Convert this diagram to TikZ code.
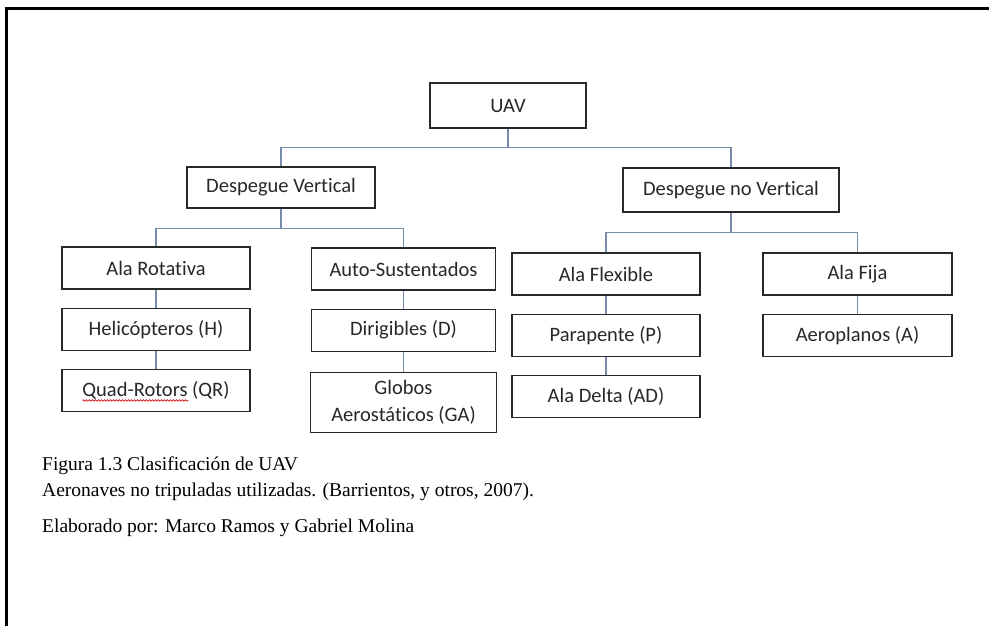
\documentclass[tikz,border=0pt]{standalone}
\usepackage{fontspec}
\setmainfont[Ligatures=NoCommon]{Carlito}
\newfontfamily\capfont{Liberation Serif}
\usepackage{tikz}
\usetikzlibrary{positioning}
\usetikzlibrary{decorations.pathmorphing}
\definecolor{linkblue}{RGB}{118,140,168}
\definecolor{boxline}{RGB}{40,40,40}
\definecolor{boxtext}{RGB}{40,40,40}
\tikzset{auto, x=1pt, y=-1pt, node distance=18pt, font=\fontsize{20.5}{23}\selectfont}
\tikzstyle{block} = [draw=boxline, line width=1.2pt, fill=white, rectangle, minimum height=42pt, minimum width=188pt, text=boxtext, text centered, align=center, inner sep=0pt]
\tikzstyle{link} = [draw=linkblue, line width=1.2pt]
\tikzstyle{squig} = [draw=red!80!black, line width=0.6pt, decorate, decoration={snake, amplitude=0.8pt, segment length=3pt}]
\tikzstyle{capline} = [anchor=base west, inner sep=0pt, font=\capfont\fontsize{19.5}{24}\selectfont]

\begin{document}
\begin{tikzpicture}
    \useasboundingbox (0,0) rectangle (989,626);
    \draw [line width=3pt] (6,626) -- (6,9) -- (989,9);

    % top
    \node [block, minimum width=156pt, minimum height=45pt] (uav) at (508,105.5) {UAV};
    \node [block, minimum height=41pt] (dv) at (281,187.5) {Despegue Vertical};
    \node [block, minimum width=216pt, minimum height=44pt] (dnv) at (731,190) {Despegue no Vertical};

    % despegue vertical
    \node [block] (ar) at (156,268) {Ala Rotativa};
    \node [block, below=of ar] (hel) {Helicópteros (H)};
    \node [block, below=of hel] (qr) {Quad-Rotors (QR)};
    \node [block, minimum width=184pt] (as) at (403.5,269) {Auto-Sustentados};
    \node [block, minimum width=184pt, below=of as] (dir) {Dirigibles (D)};
    \node [block, minimum width=186pt, minimum height=60pt, below=20pt of dir] (ga) {Globos\\[4pt]Aerostáticos (GA)};

    % despegue no vertical
    \node [block] (afx) at (606,274) {Ala Flexible};
    \node [block, below=of afx] (par) {Parapente (P)};
    \node [block, below=of par] (ad) {Ala Delta (AD)};
    \node [block, minimum width=189pt] (afj) at (857.5,274) {Ala Fija};
    \node [block, minimum width=189pt, below=of afj] (aer) {Aeroplanos (A)};

    \draw [squig] ([yshift=-4pt]qr.text) -- ++(106,0);

    \draw [link] (uav.south) -- ++(0,19) -| (dv.north);
    \draw [link] (uav.south) -- ++(0,19) -| (dnv.north);
    \draw [link] (dv.south) -- ++(0,20) -| (ar.north);
    \draw [link] (dv.south) -- ++(0,20) -| (as.north);
    \draw [link] (dnv.south) -- ++(0,20) -| (afx.north);
    \draw [link] (dnv.south) -- ++(0,20) -| (afj.north);
    \draw [link] (ar) -- (hel);
    \draw [link] (hel) -- (qr);
    \draw [link] (as) -- (dir);
    \draw [link] (dir) -- (ga);
    \draw [link] (afx) -- (par);
    \draw [link] (par) -- (ad);
    \draw [link] (afj) -- (aer);

    % caption
    \node [capline] (cap1) at (42,470) {Figura 1.3 Clasificación de UAV};
    \node [capline] (cap2) at (42,496) {Aeronaves no tripuladas utilizadas. (Barrientos, y otros, 2007).};
    \node [capline] (cap3) at (42,532) {Elaborado por: Marco Ramos y Gabriel Molina};
\end{tikzpicture}
\end{document}
